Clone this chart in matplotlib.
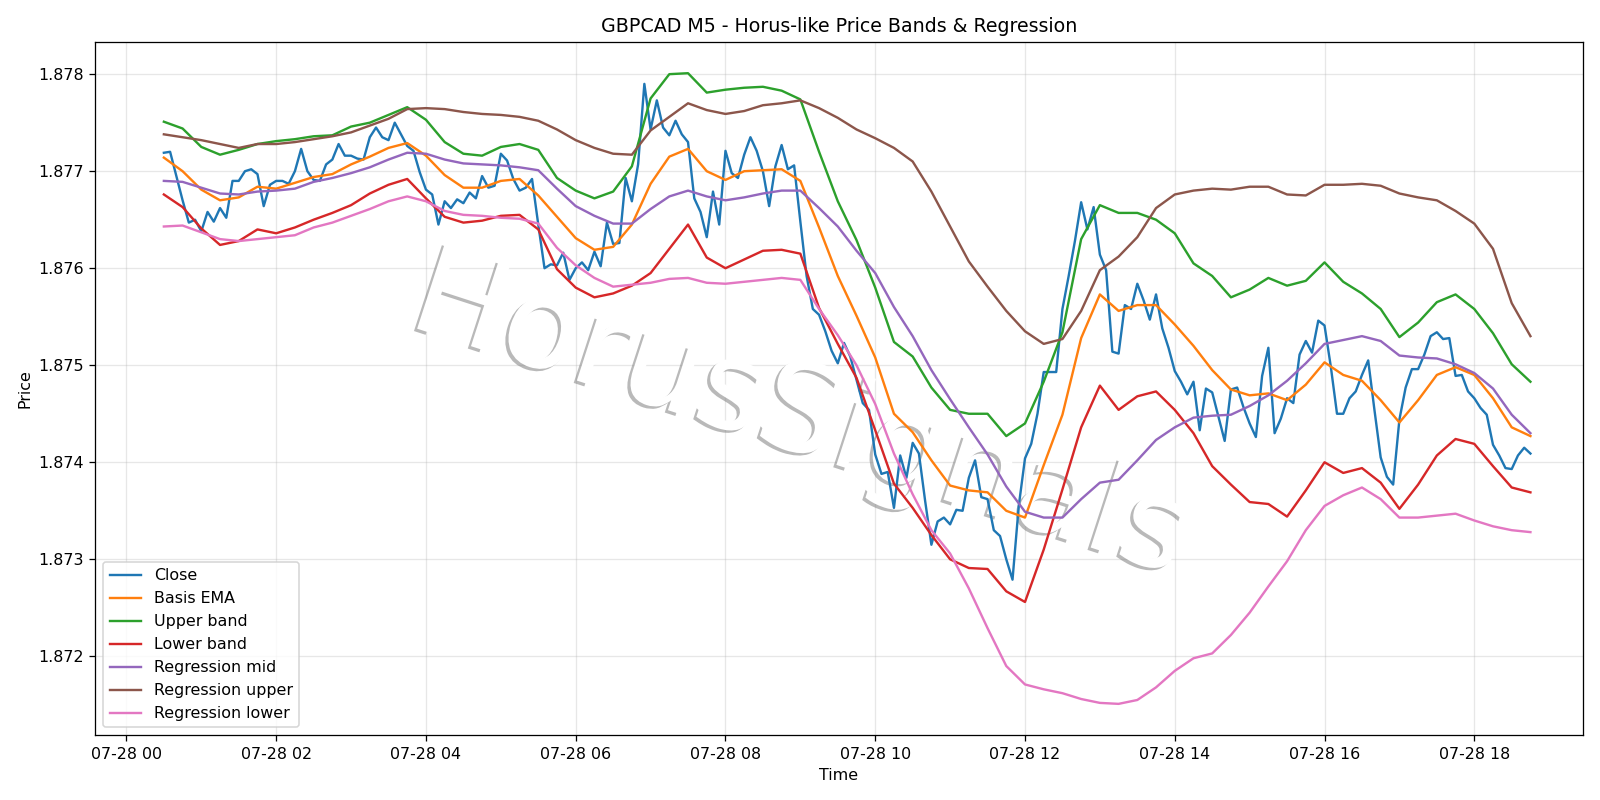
import pandas as pd
import numpy as np
import matplotlib
matplotlib.use("Agg")
import matplotlib.pyplot as plt
import matplotlib.dates as mdates
import matplotlib.patheffects as pe

# close, 5-minute bars from 07-28 00:30, one row per hour
close = (
    [1.87719, 1.87720, 1.87695, 1.87670, 1.87647, 1.87650]
    + [1.87638, 1.87658, 1.87648, 1.87662, 1.87652, 1.87690, 1.87690, 1.87700, 1.87702, 1.87697, 1.87664, 1.87686]
    + [1.87690, 1.87690, 1.87687, 1.87700, 1.87723, 1.87700, 1.87691, 1.87690, 1.87707, 1.87712, 1.87728, 1.87716]
    + [1.87716, 1.87713, 1.87712, 1.87735, 1.87745, 1.87735, 1.87732, 1.87750, 1.87738, 1.87726, 1.87721, 1.87699]
    + [1.87681, 1.87676, 1.87645, 1.87669, 1.87662, 1.87671, 1.87667, 1.87678, 1.87672, 1.87695, 1.87683, 1.87685]
    + [1.87718, 1.87711, 1.87692, 1.87680, 1.87683, 1.87692, 1.87645, 1.87600, 1.87604, 1.87603, 1.87616, 1.87588]
    + [1.87600, 1.87606, 1.87598, 1.87617, 1.87602, 1.87647, 1.87625, 1.87626, 1.87693, 1.87669, 1.87707, 1.87790]
    + [1.87743, 1.87773, 1.87745, 1.87737, 1.87752, 1.87738, 1.87730, 1.87672, 1.87658, 1.87632, 1.87679, 1.87645]
    + [1.87721, 1.87698, 1.87693, 1.87717, 1.87735, 1.87721, 1.87700, 1.87664, 1.87705, 1.87727, 1.87702, 1.87706]
    + [1.87648, 1.87592, 1.87558, 1.87552, 1.87535, 1.87515, 1.87502, 1.87523, 1.87509, 1.87485, 1.87461, 1.87454]
    + [1.87408, 1.87388, 1.87390, 1.87353, 1.87407, 1.87384, 1.87420, 1.87409, 1.87360, 1.87315, 1.87339, 1.87343]
    + [1.87336, 1.87351, 1.87350, 1.87384, 1.87402, 1.87364, 1.87362, 1.87330, 1.87324, 1.87300, 1.87279, 1.87355]
    + [1.87404, 1.87419, 1.87450, 1.87493, 1.87493, 1.87493, 1.87558, 1.87592, 1.87628, 1.87668, 1.87640, 1.87663]
    + [1.87614, 1.87598, 1.87514, 1.87512, 1.87562, 1.87558, 1.87584, 1.87567, 1.87547, 1.87573, 1.87538, 1.87518]
    + [1.87494, 1.87483, 1.87470, 1.87483, 1.87433, 1.87476, 1.87472, 1.87447, 1.87422, 1.87475, 1.87477, 1.87457]
    + [1.87440, 1.87426, 1.87489, 1.87518, 1.87430, 1.87445, 1.87466, 1.87461, 1.87511, 1.87525, 1.87513, 1.87546]
    + [1.87541, 1.87499, 1.87450, 1.87450, 1.87466, 1.87473, 1.87490, 1.87505, 1.87454, 1.87405, 1.87385, 1.87377]
    + [1.87444, 1.87477, 1.87496, 1.87496, 1.87511, 1.87530, 1.87534, 1.87527, 1.87528, 1.87489, 1.87490, 1.87473]
    + [1.87466, 1.87456, 1.87449, 1.87418, 1.87407, 1.87394, 1.87393, 1.87407, 1.87415, 1.87409]
)

# bands, read every 15 minutes from 00:30, one row per hour
basis_ema = (
    [1.87714, 1.87700]
    + [1.87681, 1.87670, 1.87673, 1.87684]
    + [1.87682, 1.87688, 1.87694, 1.87697]
    + [1.87707, 1.87715, 1.87724, 1.87729]
    + [1.87716, 1.87696, 1.87683, 1.87683]
    + [1.87690, 1.87692, 1.87675, 1.87653]
    + [1.87631, 1.87619, 1.87622, 1.87645]
    + [1.87687, 1.87715, 1.87723, 1.87700]
    + [1.87691, 1.87700, 1.87701, 1.87702]
    + [1.87690, 1.87642, 1.87592, 1.87551]
    + [1.87508, 1.87450, 1.87431, 1.87402]
    + [1.87376, 1.87371, 1.87369, 1.87350]
    + [1.87343, 1.87397, 1.87449, 1.87528]
    + [1.87573, 1.87556, 1.87562, 1.87562]
    + [1.87542, 1.87520, 1.87495, 1.87475]
    + [1.87469, 1.87471, 1.87464, 1.87480]
    + [1.87503, 1.87490, 1.87484, 1.87464]
    + [1.87441, 1.87464, 1.87490, 1.87498]
    + [1.87490, 1.87466, 1.87436, 1.87427]
)

upper_band = (
    [1.87751, 1.87744]
    + [1.87725, 1.87717, 1.87722, 1.87728]
    + [1.87731, 1.87733, 1.87736, 1.87737]
    + [1.87746, 1.87750, 1.87758, 1.87766]
    + [1.87753, 1.87730, 1.87718, 1.87716]
    + [1.87725, 1.87728, 1.87722, 1.87693]
    + [1.87680, 1.87672, 1.87679, 1.87705]
    + [1.87775, 1.87800, 1.87801, 1.87781]
    + [1.87784, 1.87786, 1.87787, 1.87783]
    + [1.87774, 1.87720, 1.87669, 1.87629]
    + [1.87580, 1.87524, 1.87509, 1.87477]
    + [1.87454, 1.87450, 1.87450, 1.87427]
    + [1.87440, 1.87483, 1.87534, 1.87630]
    + [1.87665, 1.87657, 1.87657, 1.87650]
    + [1.87636, 1.87605, 1.87592, 1.87570]
    + [1.87578, 1.87590, 1.87582, 1.87587]
    + [1.87606, 1.87586, 1.87574, 1.87558]
    + [1.87529, 1.87544, 1.87565, 1.87573]
    + [1.87558, 1.87533, 1.87501, 1.87483]
)

lower_band = (
    [1.87676, 1.87663]
    + [1.87641, 1.87624, 1.87628, 1.87640]
    + [1.87636, 1.87642, 1.87650, 1.87657]
    + [1.87665, 1.87677, 1.87686, 1.87692]
    + [1.87672, 1.87653, 1.87647, 1.87649]
    + [1.87654, 1.87655, 1.87640, 1.87599]
    + [1.87580, 1.87570, 1.87574, 1.87582]
    + [1.87595, 1.87620, 1.87645, 1.87611]
    + [1.87600, 1.87609, 1.87618, 1.87619]
    + [1.87615, 1.87559, 1.87522, 1.87487]
    + [1.87433, 1.87378, 1.87353, 1.87325]
    + [1.87300, 1.87291, 1.87290, 1.87267]
    + [1.87256, 1.87310, 1.87372, 1.87436]
    + [1.87479, 1.87454, 1.87468, 1.87473]
    + [1.87454, 1.87430, 1.87396, 1.87377]
    + [1.87359, 1.87357, 1.87344, 1.87371]
    + [1.87400, 1.87389, 1.87394, 1.87379]
    + [1.87352, 1.87377, 1.87407, 1.87424]
    + [1.87419, 1.87396, 1.87374, 1.87369]
)

reg_mid = (
    [1.87690, 1.87689]
    + [1.87683, 1.87677, 1.87676, 1.87679]
    + [1.87680, 1.87682, 1.87689, 1.87693]
    + [1.87698, 1.87704, 1.87712, 1.87719]
    + [1.87718, 1.87712, 1.87708, 1.87707]
    + [1.87706, 1.87704, 1.87701, 1.87682]
    + [1.87664, 1.87654, 1.87646, 1.87646]
    + [1.87661, 1.87674, 1.87680, 1.87674]
    + [1.87670, 1.87673, 1.87677, 1.87680]
    + [1.87680, 1.87662, 1.87643, 1.87618]
    + [1.87595, 1.87560, 1.87530, 1.87495]
    + [1.87465, 1.87436, 1.87408, 1.87375]
    + [1.87349, 1.87343, 1.87343, 1.87362]
    + [1.87379, 1.87382, 1.87402, 1.87423]
    + [1.87436, 1.87446, 1.87448, 1.87449]
    + [1.87458, 1.87469, 1.87484, 1.87502]
    + [1.87522, 1.87526, 1.87530, 1.87525]
    + [1.87510, 1.87508, 1.87507, 1.87501]
    + [1.87492, 1.87476, 1.87449, 1.87430]
)

reg_upper = (
    [1.87738, 1.87735]
    + [1.87732, 1.87728, 1.87724, 1.87728]
    + [1.87728, 1.87730, 1.87733, 1.87736]
    + [1.87740, 1.87747, 1.87754, 1.87764]
    + [1.87765, 1.87764, 1.87761, 1.87759]
    + [1.87758, 1.87756, 1.87752, 1.87743]
    + [1.87732, 1.87724, 1.87718, 1.87717]
    + [1.87742, 1.87756, 1.87770, 1.87763]
    + [1.87759, 1.87762, 1.87768, 1.87770]
    + [1.87773, 1.87765, 1.87755, 1.87743]
    + [1.87734, 1.87724, 1.87710, 1.87679]
    + [1.87643, 1.87607, 1.87581, 1.87556]
    + [1.87535, 1.87522, 1.87527, 1.87556]
    + [1.87598, 1.87612, 1.87632, 1.87662]
    + [1.87676, 1.87680, 1.87682, 1.87681]
    + [1.87684, 1.87684, 1.87676, 1.87675]
    + [1.87686, 1.87686, 1.87687, 1.87685]
    + [1.87677, 1.87673, 1.87670, 1.87659]
    + [1.87646, 1.87620, 1.87564, 1.87530]
)

reg_lower = (
    [1.87643, 1.87644]
    + [1.87637, 1.87630, 1.87628, 1.87630]
    + [1.87632, 1.87634, 1.87642, 1.87647]
    + [1.87654, 1.87661, 1.87669, 1.87674]
    + [1.87669, 1.87659, 1.87655, 1.87654]
    + [1.87652, 1.87651, 1.87646, 1.87621]
    + [1.87603, 1.87590, 1.87581, 1.87583]
    + [1.87585, 1.87589, 1.87590, 1.87585]
    + [1.87584, 1.87586, 1.87588, 1.87590]
    + [1.87588, 1.87558, 1.87531, 1.87500]
    + [1.87460, 1.87409, 1.87367, 1.87330]
    + [1.87306, 1.87270, 1.87229, 1.87190]
    + [1.87171, 1.87166, 1.87162, 1.87156]
    + [1.87152, 1.87151, 1.87155, 1.87168]
    + [1.87185, 1.87198, 1.87203, 1.87222]
    + [1.87245, 1.87272, 1.87298, 1.87330]
    + [1.87355, 1.87366, 1.87374, 1.87362]
    + [1.87343, 1.87343, 1.87345, 1.87347]
    + [1.87340, 1.87334, 1.87330, 1.87328]
)

close_times = pd.date_range("2025-07-28 00:30", periods=len(close), freq="5min")
band_times = pd.date_range("2025-07-28 00:30", periods=len(basis_ema), freq="15min")

DPI = 1600 / 14
fig, ax = plt.subplots(figsize=(14, 7), dpi=DPI)

ax.plot(close_times, close, label="Close")
ax.plot(band_times, basis_ema, label="Basis EMA")
ax.plot(band_times, upper_band, label="Upper band")
ax.plot(band_times, lower_band, label="Lower band")
ax.plot(band_times, reg_mid, label="Regression mid")
ax.plot(band_times, reg_upper, label="Regression upper")
ax.plot(band_times, reg_lower, label="Regression lower")

ax.set_xlim(close_times[0] - pd.Timedelta(minutes=55),
            close_times[-1] + pd.Timedelta(minutes=42))
ax.xaxis.set_major_locator(mdates.HourLocator(byhour=range(0, 24, 2)))
ax.xaxis.set_major_formatter(mdates.DateFormatter("%m-%d %H"))

ax.set_title("GBPCAD M5 - Horus-like Price Bands & Regression")
ax.set_xlabel("Time")
ax.set_ylabel("Price")
ax.grid(True, alpha=0.3)
ax.legend(loc="lower left")

# watermark, white letters with a grey drop shadow, under the lines
ax.text(0.5, 0.479, "HorusSignals", transform=fig.transFigure,
        fontsize=78, color="white", rotation=-18, ha="center", va="center", zorder=1.8,
        path_effects=[pe.SimplePatchShadow(offset=(-2, -1.5), shadow_rgbFace="gray", alpha=0.55),
                      pe.Normal()])

fig.tight_layout()
fig.savefig("out.png", dpi=DPI)
